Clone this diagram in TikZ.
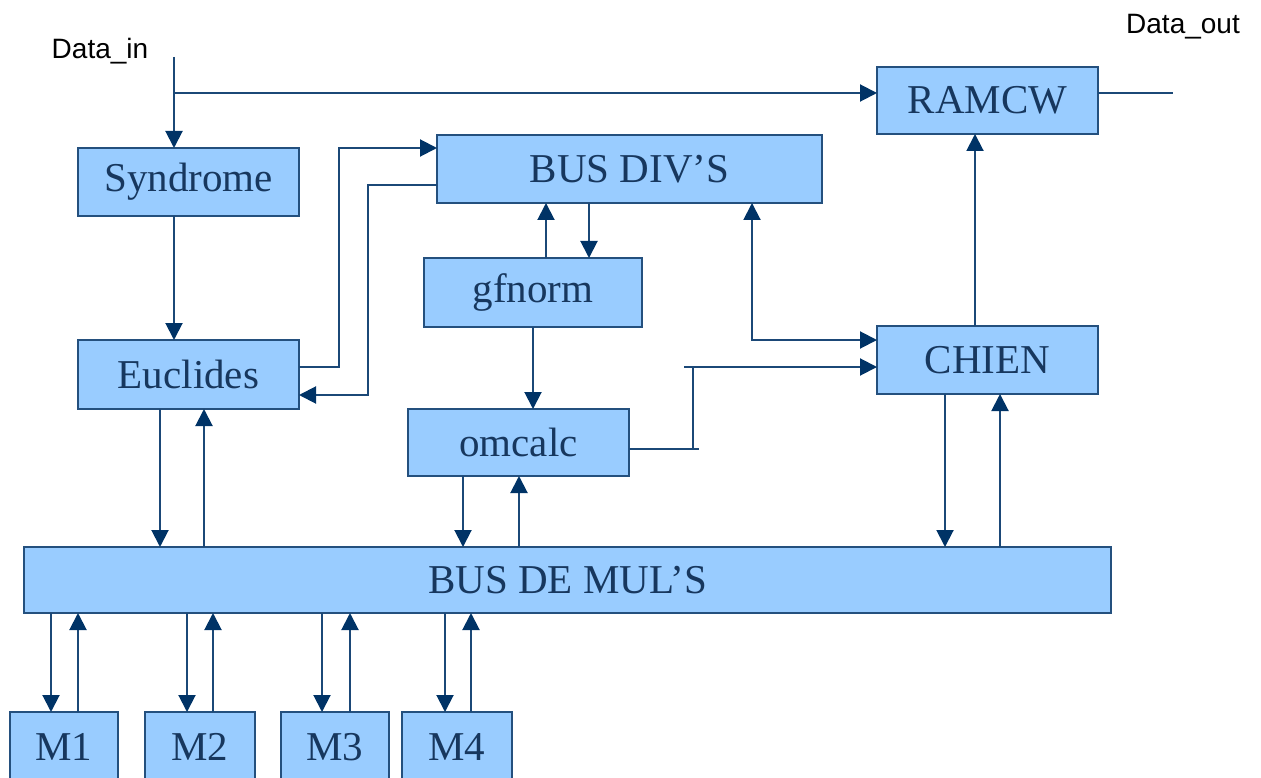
\documentclass[tikz,border=0pt]{standalone}
\usepackage{fontspec}
\setmainfont{Liberation Serif}
\newfontfamily\labelsans{Liberation Sans}
\usetikzlibrary{arrows.meta}
\definecolor{boxfill}{HTML}{99CCFF}
\definecolor{boxline}{HTML}{24507E}
\definecolor{wirec}{HTML}{1B4877}
\definecolor{tipc}{HTML}{003366}
\definecolor{txtc}{HTML}{17375E}
\tikzset{
  blk/.style={draw=boxline, fill=boxfill, line width=2pt, inner sep=0pt, outer sep=0pt,
    text=txtc, font=\fontsize{41}{46}\selectfont},
  wire/.style={draw=wirec, line width=2pt},
  arr/.style={wire, -{Triangle[length=17pt,width=17pt,color=tipc]}},
  darr/.style={wire, {Triangle[length=17pt,width=17pt,color=tipc]}-{Triangle[length=17pt,width=17pt,color=tipc]}},
  lbl/.style={font=\labelsans\fontsize{28}{32}\selectfont, text=black, inner sep=0pt}
}
\begin{document}
\begin{tikzpicture}[x=1pt,y=-1pt]
\useasboundingbox (0,0) rectangle (1261,778);
\clip (0,0) rectangle (1261,778);
% blocks
\node[blk, minimum width=221pt, minimum height=68pt] (syn) at (188.5,182) {Syndrome};
\node[blk, minimum width=221pt, minimum height=69pt] (euc) at (188.5,374.5) {Euclides};
\node[blk, minimum width=385pt, minimum height=68pt] (div) at (629.5,169) {BUS DIV’S};
\node[blk, minimum width=218pt, minimum height=69pt] (gf) at (533,292.5) {gfnorm};
\node[blk, minimum width=221pt, minimum height=67pt] (om) at (518.5,442.5) {omcalc};
\node[blk, minimum width=221pt, minimum height=68pt] (ch) at (987.5,360) {CHIEN};
\node[blk, minimum width=221pt, minimum height=67pt] (ram) at (987.5,100.5) {RAMCW};
\node[blk, minimum width=1087pt, minimum height=66pt] (bus) at (567.5,580) {BUS DE MUL’S};
\node[blk, minimum width=108pt, minimum height=70pt] (m1) at (64,747) {M1};
\node[blk, minimum width=110pt, minimum height=70pt] (m2) at (200,747) {M2};
\node[blk, minimum width=108pt, minimum height=70pt] (m3) at (335,747) {M3};
\node[blk, minimum width=110pt, minimum height=70pt] (m4) at (457,747) {M4};
% labels
\node[lbl] (lin) at (100,51) {Data\_in};
\node[lbl] (lout) at (1183,27) {Data\_out};
% input
\coordinate (din) at (174,57);
\coordinate (br) at (174,93);
\draw[wire] (din) -- (br);
\draw[arr] (br) -- (syn.north -| br);
\draw[arr] (br) -- (br -| ram.west);
\coordinate (dout) at (1173,93);
\draw[wire] (ram.east |- dout) -- (dout);
% syndrome -> euclides
\draw[arr] (syn.south -| br) -- (euc.north -| br);
% euclides <-> bus div
\coordinate (e1) at (339,367);
\coordinate (e2) at (339,148);
\draw[arr] (euc.east |- e1) -- (e1) -- (e2) -- (e2 -| div.west);
\coordinate (d1) at (368,185);
\coordinate (d2) at (368,395);
\draw[arr] (div.west |- d1) -- (d1) -- (d2) -- (d2 -| euc.east);
% bus div <-> gfnorm
\coordinate (g1) at (546,0);
\coordinate (g2) at (589,0);
\coordinate (g3) at (533,0);
\draw[arr] (gf.north -| g1) -- (div.south -| g1);
\draw[arr] (div.south -| g2) -- (gf.north -| g2);
\draw[arr] (gf.south -| g3) -- (om.north -| g3);
% bus div <-> chien
\coordinate (c1) at (752,340);
\draw[darr] (div.south -| c1) -- (c1) -- (c1 -| ch.west);
% omcalc -> chien
\coordinate (o1) at (699,449);
\coordinate (o2) at (693,449);
\coordinate (o3) at (693,367);
\coordinate (o4) at (684,367);
\draw[wire] (om.east |- o1) -- (o1);
\draw[wire] (o2) -- (o3);
\draw[arr] (o4) -- (o4 -| ch.west);
% chien -> ramcw
\coordinate (r1) at (975,0);
\draw[arr] (ch.north -| r1) -- (ram.south -| r1);
% to / from bus de mul
\coordinate (b1) at (160,0);
\coordinate (b2) at (204,0);
\draw[arr] (euc.south -| b1) -- (bus.north -| b1);
\draw[arr] (bus.north -| b2) -- (euc.south -| b2);
\coordinate (b3) at (463,0);
\coordinate (b4) at (519,0);
\draw[arr] (om.south -| b3) -- (bus.north -| b3);
\draw[arr] (bus.north -| b4) -- (om.south -| b4);
\coordinate (b5) at (945,0);
\coordinate (b6) at (1000,0);
\draw[arr] (ch.south -| b5) -- (bus.north -| b5);
\draw[arr] (bus.north -| b6) -- (ch.south -| b6);
% multipliers
\foreach \m/\xa/\xb in {m1/51/78, m2/187/213, m3/322/350, m4/445/471}{
  \coordinate (p\m) at (\xa,0);
  \coordinate (q\m) at (\xb,0);
  \draw[arr] (bus.south -| p\m) -- (\m.north -| p\m);
  \draw[arr] (\m.north -| q\m) -- (bus.south -| q\m);
}
\end{tikzpicture}
\end{document}
